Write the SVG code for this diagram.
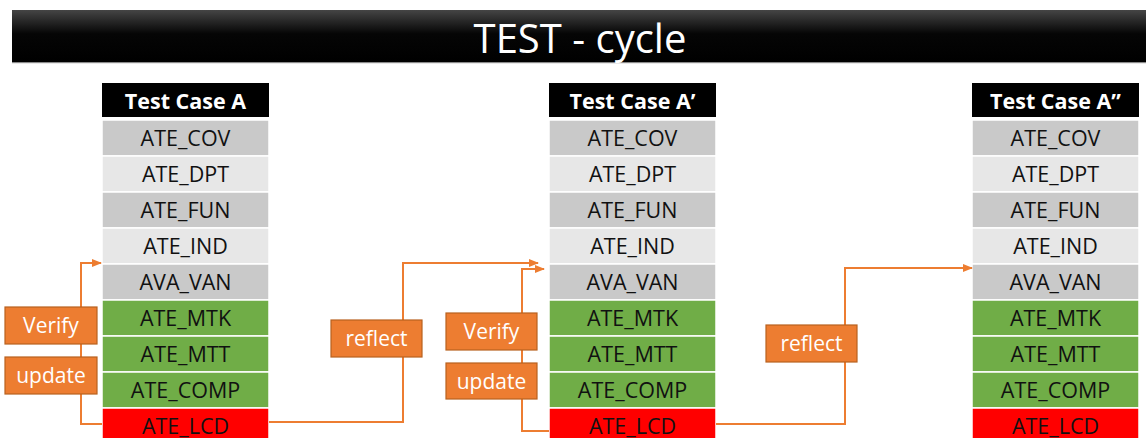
<svg xmlns="http://www.w3.org/2000/svg" width="1146" height="438" viewBox="0 0 1146 438">
  <style>
    .hdr { fill: #000; }
    .hdr-t { fill: #fff; font-family: "Open Sans", "Noto Sans", sans-serif; font-weight: bold; font-size: 21.5px; text-anchor: middle; }
    .cell { stroke: #fff; stroke-width: 1.5; }
    .dk { fill: #c9c9c9; }
    .lt { fill: #e7e7e7; }
    .gr { fill: #70ad47; }
    .rd { fill: #ff0000; }
    .cell-t { fill: #111; font-family: "Open Sans", "Noto Sans", sans-serif; font-size: 21.5px; text-anchor: middle; }
    .wire { fill: none; stroke: #ed7d31; stroke-width: 2; }
    .tag { fill: #ed7d31; stroke: #b8611f; stroke-width: 1.2; }
    .tag-t { fill: #fff; font-family: "Open Sans", "Noto Sans", sans-serif; font-size: 21px; text-anchor: middle; }
  </style>
  <defs>
    <linearGradient id="titleFill" x1="0" y1="0" x2="0" y2="1">
      <stop offset="0" stop-color="#454545"/>
      <stop offset="0.45" stop-color="#050505"/>
      <stop offset="1" stop-color="#000"/>
    </linearGradient>
    <marker id="tip" markerWidth="10" markerHeight="8" refX="9" refY="4" orient="auto" markerUnits="userSpaceOnUse">
      <path d="M0,0 L10,4 L0,8 Z" fill="#ed7d31"/>
    </marker>
    <!-- shared cell column: nine rows of 36px -->
    <g id="rows">
      <rect class="cell dk" x="0" y="0" width="167" height="36"/>
      <rect class="cell lt" x="0" y="36" width="167" height="36"/>
      <rect class="cell dk" x="0" y="72" width="167" height="36"/>
      <rect class="cell lt" x="0" y="108" width="167" height="36"/>
      <rect class="cell dk" x="0" y="144" width="167" height="36"/>
      <rect class="cell gr" x="0" y="180" width="167" height="36"/>
      <rect class="cell gr" x="0" y="216" width="167" height="36"/>
      <rect class="cell gr" x="0" y="252" width="167" height="36"/>
      <rect class="cell rd" x="0" y="288" width="167" height="36"/>
      <text class="cell-t" x="83.5" y="25.5">ATE_COV</text>
      <text class="cell-t" x="83.5" y="61.5">ATE_DPT</text>
      <text class="cell-t" x="83.5" y="97.5">ATE_FUN</text>
      <text class="cell-t" x="83.5" y="133.5">ATE_IND</text>
      <text class="cell-t" x="83.5" y="169.5">AVA_VAN</text>
      <text class="cell-t" x="83.5" y="205.5">ATE_MTK</text>
      <text class="cell-t" x="83.5" y="241.5">ATE_MTT</text>
      <text class="cell-t" x="83.5" y="277.5">ATE_COMP</text>
      <text class="cell-t" x="83.5" y="313.5">ATE_LCD</text>
    </g>
  </defs>

  <!-- title bar -->
  <g id="title">
    <rect x="12" y="10" width="1134" height="53" fill="url(#titleFill)"/>
    <rect x="12" y="62" width="1134" height="1.2" fill="#8a8a8a"/>
    <text x="580" y="53" fill="#fff" font-family="Open Sans, Noto Sans, sans-serif" font-size="40" text-anchor="middle" xml:space="preserve">TEST - cycle</text>
  </g>

  <!-- test case tables -->
  <g id="case-a">
    <rect class="hdr" x="102" y="83" width="167" height="34"/>
    <text class="hdr-t" x="185.5" y="108.5">Test Case A</text>
    <use href="#rows" x="102" y="120"/>
  </g>
  <g id="case-a1">
    <rect class="hdr" x="549" y="83" width="167" height="34"/>
    <text class="hdr-t" x="632.5" y="108.5">Test Case A’</text>
    <use href="#rows" x="549" y="120"/>
  </g>
  <g id="case-a2">
    <rect class="hdr" x="972" y="83" width="167" height="34"/>
    <text class="hdr-t" x="1055.5" y="108.5">Test Case A”</text>
    <use href="#rows" x="972" y="120"/>
  </g>

  <!-- connectors -->
  <g id="connectors">
    <path class="wire" d="M102,424 H81 V263 H101" marker-end="url(#tip)"/>
    <path class="wire" d="M269,422 H403 V263 H538" marker-end="url(#tip)"/>
    <path class="wire" d="M549,431 H522 V269 H544" marker-end="url(#tip)"/>
    <path class="wire" d="M716,424 H845 V268 H972" marker-end="url(#tip)"/>
  </g>

  <!-- connector labels -->
  <g id="verify-a">
    <rect class="tag" x="5" y="307" width="92" height="37"/>
    <text class="tag-t" x="51" y="333">Verify</text>
  </g>
  <g id="update-a">
    <rect class="tag" x="5" y="357" width="92" height="37"/>
    <text class="tag-t" x="51" y="383">update</text>
  </g>
  <g id="reflect-1">
    <rect class="tag" x="331" y="320" width="91" height="37"/>
    <text class="tag-t" x="376.5" y="346">reflect</text>
  </g>
  <g id="verify-a1">
    <rect class="tag" x="446" y="313" width="91" height="37"/>
    <text class="tag-t" x="491.5" y="339">Verify</text>
  </g>
  <g id="update-a1">
    <rect class="tag" x="446" y="363" width="91" height="36"/>
    <text class="tag-t" x="491.5" y="389">update</text>
  </g>
  <g id="reflect-2">
    <rect class="tag" x="766" y="325" width="91" height="37"/>
    <text class="tag-t" x="811.5" y="351">reflect</text>
  </g>
</svg>
